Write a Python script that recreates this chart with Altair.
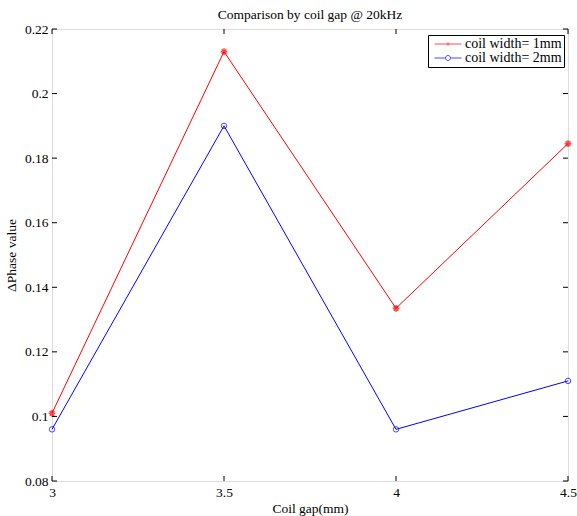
import altair as alt
import pandas as pd

gap = [3, 3.5, 4, 4.5]
w1 = [0.101, 0.213, 0.1335, 0.1845]
w2 = [0.096, 0.190, 0.096, 0.111]
labels = ["coil width= 1mm", "coil width= 2mm"]
colors = ["#ff0000", "#0000ff"]
xticks = [3, 3.5, 4, 4.5]
yticks = [0.08, 0.10, 0.12, 0.14, 0.16, 0.18, 0.20, 0.22]

FONT = "Liberation Serif"
W, H = 516, 452
TL = 5

df = pd.DataFrame({
    "gap": gap * 2,
    "val": w1 + w2,
    "series": [labels[0]] * 4 + [labels[1]] * 4,
})
xt = pd.DataFrame({"t": xticks})
yt = pd.DataFrame({"t": yticks})

xs = alt.Scale(domain=[3, 4.5], nice=False, zero=False)
ys = alt.Scale(domain=[0.08, 0.22], nice=False, zero=False)

xax = alt.Axis(values=xticks, format="~g", ticks=False, domain=False, grid=False,
               labelFlush=False, labelFont=FONT, labelFontSize=13.5, labelColor="black",
               labelPadding=4, title="Coil gap(mm)", titleFont=FONT, titleFontSize=13.5,
               titleFontWeight="normal", titleColor="black", titlePadding=3)
yax = alt.Axis(values=yticks, format=".2~f", ticks=False, domain=False, grid=False,
               labelFont=FONT, labelFontSize=13.5, labelColor="black", labelPadding=4,
               title="ΔPhase value", titleFont=FONT, titleFontSize=13.5,
               titleFontWeight="normal", titleColor="black", titlePadding=6)

def X(field):
    return alt.X(field, scale=xs, axis=xax, title="Coil gap(mm)")

def Y(field):
    return alt.Y(field, scale=ys, axis=yax, title="ΔPhase value")

base = alt.Chart(df)

layers = []
asterisk = "M-1,0L1,0M0,-1L0,1M-0.7,-0.7L0.7,0.7M-0.7,0.7L0.7,-0.7"
for i, (lab, col) in enumerate(zip(labels, colors)):
    sub = base.transform_filter(alt.datum.series == lab)
    line = sub.mark_line(color=col, strokeWidth=1).encode(x=X("gap:Q"), y=Y("val:Q"))
    if i == 0:
        pt = sub.mark_point(shape=asterisk, color=col, filled=False, size=45, strokeWidth=1.6)
    else:
        pt = sub.mark_point(shape="circle", color=col, filled=False, size=30, strokeWidth=1)
    pt = pt.encode(x=X("gap:Q"), y=Y("val:Q"))
    layers += [line, pt]

# inward ticks
tick_style = dict(color="black", strokeWidth=1)
layers.append(alt.Chart(xt).mark_rule(**tick_style).encode(
    x=X("t:Q"), y=alt.value(H), y2=alt.value(H - TL)))
layers.append(alt.Chart(xt).mark_rule(**tick_style).encode(
    x=X("t:Q"), y=alt.value(0), y2=alt.value(TL)))
layers.append(alt.Chart(yt).mark_rule(**tick_style).encode(
    y=Y("t:Q"), x=alt.value(0), x2=alt.value(TL)))
layers.append(alt.Chart(yt).mark_rule(**tick_style).encode(
    y=Y("t:Q"), x=alt.value(W), x2=alt.value(W - TL)))

# legend carrier
leg_red = "M-2.7,0L2.7,0M0,-0.3L0,0.3M-0.3,0L0.3,0"
leg_blue = "M-2.7,0L-0.5,0M0.5,0L2.7,0M0.5,0A0.5,0.5 0 1,1 -0.5,0A0.5,0.5 0 1,1 0.5,0"
legend = alt.Legend(title=None, orient="none", legendX=376, legendY=6,
                    labelFont=FONT, labelFontSize=14, labelColor="black",
                    symbolSize=100, symbolStrokeWidth=1, symbolFillColor="transparent",
                    symbolOffset=11, labelOffset=10,
                    strokeColor="black", fillColor="white", padding=2,
                    rowPadding=0, labelLimit=300)
carrier = base.transform_filter("false").mark_point(filled=False).encode(
    x=X("gap:Q"),
    y=Y("val:Q"),
    color=alt.Color("series:N", scale=alt.Scale(domain=labels, range=colors), legend=legend),
    shape=alt.Shape("series:N", scale=alt.Scale(domain=labels, range=[leg_red, leg_blue]), legend=legend),
)
layers.append(carrier)

chart = alt.layer(*layers).properties(
    width=W, height=H,
    title=alt.TitleParams("Comparison by coil gap @ 20kHz", font=FONT, fontSize=13.5,
                          fontWeight="normal", color="black", offset=1),
    autosize=alt.AutoSizeParams(type="none"),
    padding={"left": 52, "top": 29, "right": 9, "bottom": 35},
).configure_view(stroke="#222222", strokeWidth=1).configure(background="white")

chart.save("out.html", embed_options={"renderer": "svg", "actions": False})
